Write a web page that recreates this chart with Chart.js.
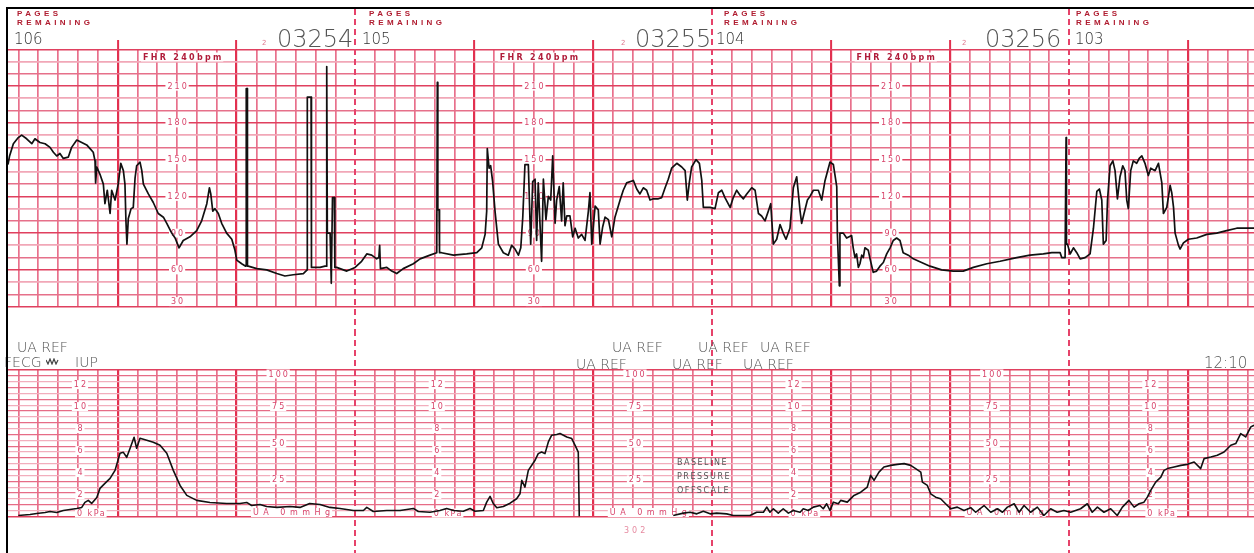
<!DOCTYPE html>
<html>
<head>
<meta charset="utf-8">
<title>CTG</title>
<script src="https://cdn.jsdelivr.net/npm/chart.js@4"></script>
<style>
  body { margin: 0; background: #fff; }
  #folha { position: relative; width: 1254px; height: 553px; overflow: hidden; background: #fff; }
  canvas { position: absolute; left: 0; }
  #topo { top: 0; }
  #base { top: 330px; }
  .moldura { position: absolute; left: 6px; top: 7px; width: 1250px; height: 548px; border-top: 2px solid #000; border-left: 2px solid #000; pointer-events: none; }
  .t { position: absolute; white-space: nowrap; line-height: 1; }
  .pag { color: #b01c30; font: bold 8px "Liberation Sans", Arial, sans-serif; letter-spacing: 3.4px; }
  .num { color: #333; font: 200 15px "DejaVu Sans", sans-serif; }
  .grande { color: #555; font: 200 24px "DejaVu Sans", sans-serif; }
  .mini { color: #e07a90; font: 7px "DejaVu Sans", sans-serif; }
  .cinza { color: #555; font: 200 14px "DejaVu Sans", sans-serif; }
  .aviso { color: #555; font: 8px "DejaVu Sans", sans-serif; letter-spacing: 1.5px; }
  .rosa { color: #e68aa0; font: 8px "DejaVu Sans", sans-serif; letter-spacing: 3px; }
</style>
</head>
<body>
<div id="folha">
  <canvas id="topo" width="1254" height="330"></canvas>
  <canvas id="base" width="1254" height="223"></canvas>

  <div class="t pag" style="left:17px;top:9px">PAGES</div>
  <div class="t pag" style="left:17px;top:18px">REMAINING</div>
  <div class="t pag" style="left:369px;top:9px">PAGES</div>
  <div class="t pag" style="left:369px;top:18px">REMAINING</div>
  <div class="t pag" style="left:724px;top:9px">PAGES</div>
  <div class="t pag" style="left:724px;top:18px">REMAINING</div>
  <div class="t pag" style="left:1076px;top:9px">PAGES</div>
  <div class="t pag" style="left:1076px;top:18px">REMAINING</div>

  <div class="t num" style="left:14px;top:30px">106</div>
  <div class="t num" style="left:362px;top:30px">105</div>
  <div class="t num" style="left:716px;top:30px">104</div>
  <div class="t num" style="left:1075px;top:30px">103</div>

  <div class="t mini" style="left:262px;top:39px">2</div>
  <div class="t grande" style="left:277px;top:25px">03254</div>
  <div class="t mini" style="left:621px;top:39px">2</div>
  <div class="t grande" style="left:635px;top:25px">03255</div>
  <div class="t mini" style="left:962px;top:39px">2</div>
  <div class="t grande" style="left:985px;top:25px">03256</div>

  <div class="t cinza" style="left:17px;top:339px">UA REF</div>
  <div class="t cinza" style="left:4px;top:354px">FECG</div>
  <svg class="t" style="left:46px;top:358px" width="14" height="7"><polyline points="0,2 2,6 4,1 6,6 8,1 10,6 12,2" fill="none" stroke="#444" stroke-width="1.2"/></svg>
  <div class="t cinza" style="left:75px;top:354px">IUP</div>

  <div class="t cinza" style="left:612px;top:339px">UA REF</div>
  <div class="t cinza" style="left:698px;top:339px">UA REF</div>
  <div class="t cinza" style="left:760px;top:339px">UA REF</div>
  <div class="t cinza" style="left:576px;top:356px">UA REF</div>
  <div class="t cinza" style="left:672px;top:356px">UA REF</div>
  <div class="t cinza" style="left:743px;top:356px">UA REF</div>
  <div class="t cinza" style="left:1204px;top:354px;font-size:15px">12:10</div>

  <div class="t aviso" style="left:677px;top:458px">BASELINE</div>
  <div class="t aviso" style="left:677px;top:472px">PRESSURE</div>
  <div class="t aviso" style="left:677px;top:486px">OFFSCALE</div>
  <div class="t rosa" style="left:624px;top:526px">302</div>

  <div class="moldura"></div>
</div>

<script>
// Batimentos fetais (tempo em segundos, bpm), uma lista por pagina
var fhrPag1 = [[-5.3,146],[-4.5,153],[-2.6,163],[-0.1,168],[1.6,170],[4.1,167],[6.7,163],[8.3,167],[10.8,164],[13.4,163],[15.9,160],[17.6,156],[19.3,153],[20.9,155],[22.6,151],[25.1,152],[26.8,160],[29.4,166],[31.9,164],[34.4,162],[36.1,159],[37.7,156],[38.6,149],[38.9,131],[39.5,144],[41.1,138],[42.8,130],[43.6,114],[44.8,125],[46.2,106],[47,125],[48.7,117],[50.3,130],[51.6,147],[52.9,141],[53.7,130],[54.2,100],[54.7,81],[55.4,102],[56.8,110],[57.9,111],[58.8,135],[59.6,145],[61.3,148],[62.2,141],[63,130],[65.5,122],[68,115],[70.5,106],[73.1,103],[74.8,98],[77.3,90],[79,86],[81,78],[83.1,84],[86.5,87],[89.9,92],[92.4,100],[95,114],[96.3,127],[97,122],[98,108],[99.1,110],[100.8,106],[102.5,98],[105,90],[107.6,85],[109.2,76],[110.1,68],[112.6,65],[114.6,63],[114.8,64],[114.9,208],[115.4,208],[115.5,63],[115.9,63],[120.2,61],[125.2,60],[130.3,57],[134.4,55],[138.6,56],[143.7,57],[145.6,60],[145.7,201],[147.6,201],[147.7,62],[147.9,62],[152.1,62],[154.6,63],[155.3,63],[155.5,226],[155.8,90],[157.2,90],[157.8,49],[158.4,119],[159.3,119],[159.6,62],[160.5,62],[165.6,59],[169.8,62]];
var fhrPag2 = [[173.1,67],[175.7,73],[178.2,72],[180.7,69],[181.8,70],[182.2,80],[182.6,61],[185.8,62],[188.3,59],[190.8,57],[194.1,61],[199.2,65],[202.6,69],[207.6,72],[211,74],[211.3,213],[211.5,213],[211.6,109],[212.2,109],[212.4,74],[213.4,74],[219.4,72],[226.1,73],[231.2,74],[233.7,78],[235.4,89],[236.2,108],[236.5,159],[237.4,143],[238.2,145],[239.2,132],[240.4,108],[242.1,81],[244.6,74],[247.1,72],[248.8,80],[250.5,77],[252.2,72],[253.4,78],[254.4,103],[255.5,146],[257.2,146],[258.4,81],[259.4,132],[260.6,134],[261.4,84],[262.2,131],[263.9,67],[264.8,134],[266.1,101],[267.3,120],[268.5,117],[269.5,153],[270.7,98],[271.5,117],[272.8,128],[274,100],[274.8,131],[275.7,96],[276.6,104],[278.2,104],[279.6,87],[280.8,94],[282.4,86],[284.1,89],[285.8,84],[287.5,108],[288.3,123],[289.2,81],[290.9,112],[292.5,109],[293.4,81],[294.7,95],[295.9,103],[297.6,101],[299.3,87],[300.9,103],[303.5,117],[305.1,125],[306.8,131],[310.2,133],[311.9,126],[313.5,122],[315.2,127],[316.9,125],[318.6,117],[320.3,118],[322.8,118],[324.5,119],[326.2,127],[327.8,134],[329.5,143],[332.1,147],[334.6,144],[336.3,141],[337.4,117],[338.4,131],[339.6,144],[341.8,150],[343.5,147],[344.7,133],[345.5,111],[348.9,111]];
var fhrPag3 = [[351.4,110],[353.1,123],[354.8,125],[356.4,119],[359,111],[360.6,119],[362.3,125],[364,121],[365.7,118],[367.4,122],[369.9,127],[371.6,125],[373.3,106],[374.9,104],[376.6,100],[378.3,108],[379.5,114],[380.8,81],[382.5,85],[384.2,97],[385.8,90],[387.2,85],[389.2,94],[390.9,127],[392.6,136],[394.3,108],[395.1,98],[396.3,106],[398,117],[399.3,120],[401,125],[403.5,125],[405.2,117],[406.9,133],[409.4,148],[411.1,146],[412.8,128],[413.1,90],[414.1,47],[414.4,90],[416.1,90],[417.8,86],[420.3,88],[421.1,78],[422,70],[422.8,73],[423.7,62],[424.5,65],[425.4,72],[426.2,70],[427,78],[428.7,76],[429.6,69],[431.2,58],[432.9,59],[434.6,63],[436.3,66],[438,73],[439.7,78],[441.3,84],[443,86],[444.7,84],[446.3,74],[448.9,72],[451.4,69],[455.6,66],[459.8,63],[465.7,60],[471.6,59],[476.6,59],[481.7,62],[488.5,65],[495.2,67],[503.6,70],[510.3,72],[517,73],[521.3,74],[525.5,74]];
var fhrPag4 = [[526.3,70],[528,70],[528.4,70],[528.5,168],[528.7,81],[529.2,81],[530.6,73],[532.2,78],[533.9,74],[535.6,69],[538.1,70],[540.6,73],[542.3,94],[544,124],[545.3,126],[546.5,117],[547.3,81],[548.7,84],[549.4,117],[550.7,145],[552.1,149],[553.2,141],[554.4,118],[555.7,136],[557.1,145],[558.2,141],[559.1,117],[559.9,110],[561.1,141],[562.4,149],[564.1,147],[565.4,151],[566.7,153],[568.3,147],[570,137],[571.2,143],[573.4,141],[575.1,147],[576.8,131],[577.6,106],[579.3,111],[581,129],[581.8,123],[582.7,111],[583.5,90],[585.2,80],[586,77],[587.7,82],[590.2,85],[594.4,86],[599.5,89],[604.5,90],[609.5,92],[614.6,94],[619.6,94],[623.3,94]];

// Pressao uterina (tempo em segundos, mmHg)
var uaPag1 = [[-0.1,0.7],[5.8,1.4],[9.2,2.1],[13.4,2.7],[15.9,3.4],[19.3,2.7],[22.6,4.1],[26,4.8],[29.4,5.5],[31.9,6.2],[33.5,9.6],[35.2,11],[36.9,8.9],[39.5,13],[41.1,19.2],[43.6,22.6],[46.2,26],[48.7,31.5],[51.2,43.2],[52.9,43.8],[54.6,40.4],[56.3,46.6],[58.3,54.1],[59.6,46.6],[61.3,53.4],[64.7,52.1],[68,50.7],[71.4,48.6],[74.8,43.2],[78.1,31.5],[81.5,21.2],[84.9,14.4],[89.9,11],[96.6,9.6],[105,8.9],[111.7,8.9],[115.1,9.6],[117.6,7.5],[121.8,8.2],[125.2,6.8],[130.3,6.2],[137,6.8],[142,6.2],[146.9,8.9],[152.1,8.2],[157.1,6.2],[162.2,5.5],[168.9,4.1]];
var uaPag2 = [[174,4.1],[175.7,6.2],[179,3.4],[185.8,4.1],[192.5,4.1],[199.2,5.5],[201.7,3.4],[207.6,2.9],[212.6,4.1],[216,5.5],[219.4,4.1],[224.4,3.6],[227.8,5.5],[230.3,3.6],[234.5,4.1],[236.2,9.8],[237.9,13.7],[239.5,8.9],[241.3,6],[244.6,6.8],[248,9.1],[251.3,12.1],[253,15.5],[253.9,24.7],[255.5,20.1],[257.2,31.5],[260.6,38.4],[262.2,42.9],[263.9,44],[265.6,42.9],[267.3,50.9],[269,55.5],[271.5,56],[273.2,56.6],[276.6,54.3],[279.1,53.2],[280.8,48.6],[282.4,44],[282.9,0],[300,null]];
var uaPag3 = [[330.3,0.7],[335.4,2.3],[338.8,2.9],[342.2,1.8],[345.5,3.6],[348.9,1.8],[352.2,2.3],[357.3,1.8],[360.6,0.7],[369,0.7],[372.4,2.9],[375.8,2.9],[377.5,6.4],[379.1,2.9],[380.8,5.3],[383.3,2.3],[385.8,5.3],[388.4,2.3],[390.9,4.1],[394.3,2.9],[395.9,5.3],[398.4,4.1],[401,6.4],[404.3,7.5],[406,5.3],[407.7,8.7],[409.4,4.1],[411.1,9.8],[413.6,8.7],[414.8,11],[418.1,9.8],[421.5,14.4],[424.9,16.6],[428.2,20.1],[429.9,28.1],[431.6,24.7],[434.1,30.3],[436.6,33.8],[440,34.9],[443.4,35.6],[446.8,36.1],[450.1,34.9],[452.6,32.7],[455.2,30.3],[456,23.5],[458.5,21.2],[460.2,15.5],[462.7,13.2],[465.2,12.1],[467.7,8.7],[470.3,5.3],[473.6,6.4],[477,4.1],[480.4,6],[482.9,2.9],[487.1,7.5],[490.5,2.9],[493.9,5.3],[496.4,2.9],[498.9,6.4],[502.3,8.7],[504.8,2.9],[507.3,7.5],[510.6,2.9],[514,6.4],[517.3,0.7],[520.7,5.3],[524,2.9],[527.4,4.1]];
var uaPag4 = [[530.8,2.9],[535.8,5.3],[539.2,8.7],[541.7,2.9],[544.3,6.4],[547.6,2.9],[551,5.3],[554.3,0.7],[556.9,6.4],[560.2,11],[562.8,6.4],[565.3,8.7],[567.8,9.8],[569.5,13.2],[571.2,17.8],[573.7,23.5],[576.3,26.9],[577.9,31.5],[579.6,32.7],[583,33.8],[586.4,34.9],[589.7,35.6],[593.1,37.2],[596.4,32.7],[598.1,39.5],[601.5,40.6],[604.8,41.8],[608.2,44],[611.6,48.6],[614.1,49.8],[616.6,56.6],[619.1,54.3],[621.7,61.2],[623.3,62.3]];

// Rotulos das escalas
var fhrRotulos = [30, 60, 90, 120, 150, 180, 210];
var kpaRotulos = [2, 4, 6, 8, 10, 12];
var mmhgRotulos = [25, 50, 75, 100];
var colunasFhr = [80, 260, 440];
var colunasTitulo = [62.8, 242.8, 422.8];
var colunasKpa = [31, 211, 391, 571];
var colunasZeroKpa = [29.5, 209.5, 389.5, 569.5];
var colunasMmhg = [131, 311, 491];
var colunasZeroMmhg = [118.3, 298.3, 478.3];
var minutos = [50, 110, 230, 290, 410, 470, 590];
var paginas = [170, 350, 530];

var tMin = -5.3, tMax = 623.3;

function pontos(listas) {
  var out = [];
  listas.forEach(function(l) {
    l.forEach(function(p) { out.push({ x: p[0], y: p[1] }); });
  });
  return out;
}

// Linhas verticais a cada 10 s
function ticksTempo(scale) {
  var t = [];
  for (var v = 0; v <= 620; v += 10) t.push({ value: v });
  scale.ticks = t;
}
function corVertical(c) {
  var v = c.tick.value;
  if (paginas.indexOf(v) >= 0) return 'rgba(0,0,0,0)';
  if (minutos.indexOf(v) >= 0) return '#e2304f';
  return '#e8708c';
}
function larguraVertical(c) {
  return minutos.indexOf(c.tick.value) >= 0 ? 2.2 : 1.7;
}
function corTick(c) {
  return minutos.indexOf(c.tick.value) >= 0 ? '#e2304f' : 'rgba(0,0,0,0)';
}

// Linha tracejada de mudanca de pagina
function fazerTracejado(y0) {
  return {
    id: 'tracejado',
    beforeDatasetsDraw: function(chart) {
      var ctx = chart.ctx, xs = chart.scales.x;
      ctx.save();
      ctx.strokeStyle = '#e6426a';
      ctx.lineWidth = 2;
      ctx.setLineDash([6, 4]);
      paginas.forEach(function(t) {
        var x = Math.round(xs.getPixelForValue(t));
        ctx.beginPath();
        ctx.moveTo(x, y0);
        ctx.lineTo(x, chart.height);
        ctx.stroke();
      });
      ctx.restore();
    }
  };
}

// Rotulos desenhados dentro da grade
function fazerRotulos(itens) {
  return {
    id: 'rotulos',
    beforeDatasetsDraw: function(chart) {
      var ctx = chart.ctx, xs = chart.scales.x, ys = chart.scales.y;
      itens.forEach(function(it) {
        ctx.save();
        ctx.font = it.fonte;
        ctx.letterSpacing = it.ls + 'px';
        var w = ctx.measureText(it.txt).width - it.ls;
        var x = xs.getPixelForValue(it.t);
        var y = ys.getPixelForValue(it.v) + (it.dy || 0);
        var x0 = it.centro ? x - w / 2 : x;
        ctx.fillStyle = '#fff';
        ctx.fillRect(x0 - 2, y - 4.5, w + 4, 9);
        ctx.fillStyle = it.cor;
        ctx.textBaseline = 'middle';
        ctx.fillText(it.txt, x0, y + 0.5);
        ctx.restore();
      });
    }
  };
}

var fonteRotulo = '8px "DejaVu Sans", sans-serif';
var fonteTitulo = 'bold 8px "DejaVu Sans", sans-serif';

var itensTopo = [];
colunasFhr.forEach(function(t) {
  fhrRotulos.forEach(function(v) {
    itensTopo.push({ t: t, v: v, dy: v === 30 ? -5 : 0, txt: String(v), centro: true, fonte: fonteRotulo, ls: 2, cor: '#d8436a' });
  });
});
colunasTitulo.forEach(function(t) {
  itensTopo.push({ t: t, v: 240, dy: 7.6, txt: 'FHR 240bpm', centro: false, fonte: fonteTitulo, ls: 2.3, cor: '#b01c3a' });
});

var itensBase = [];
colunasKpa.forEach(function(t) {
  kpaRotulos.forEach(function(v) {
    itensBase.push({ t: t, v: v * 7.5006, dy: 0, txt: String(v), centro: true, fonte: fonteRotulo, ls: 2, cor: '#d8436a' });
  });
});
colunasMmhg.forEach(function(t) {
  mmhgRotulos.forEach(function(v) {
    itensBase.push({ t: t, v: v, dy: v === 100 ? 4 : 0, txt: String(v), centro: true, fonte: fonteRotulo, ls: 2, cor: '#d8436a' });
  });
});
colunasZeroKpa.forEach(function(t) {
  itensBase.push({ t: t, v: 0, dy: -3.5, txt: '0 kPa', centro: false, fonte: fonteRotulo, ls: 1.5, cor: '#d8436a' });
});
colunasZeroMmhg.forEach(function(t) {
  itensBase.push({ t: t, v: 0, dy: -4, txt: 'UA 0mmHg', centro: false, fonte: fonteRotulo, ls: 4.5, cor: '#d8436a' });
});

// Grafico de cima: FHR
new Chart(document.getElementById('topo').getContext('2d'), {
  type: 'line',
  data: {
    datasets: [{
      data: pontos([fhrPag1, fhrPag2, fhrPag3, fhrPag4]),
      borderColor: '#111',
      borderWidth: 1.7,
      borderJoinStyle: 'round',
      pointRadius: 0,
      tension: 0,
      fill: false
    }]
  },
  options: {
    responsive: false,
    animation: false,
    devicePixelRatio: 1,
    events: [],
    layout: { padding: { left: 8, right: 0, top: 40, bottom: 23.4 } },
    plugins: { legend: { display: false }, tooltip: { enabled: false } },
    scales: {
      x: {
        type: 'linear', position: 'top', min: tMin, max: tMax,
        afterBuildTicks: ticksTempo,
        afterFit: function(s) { s.height = 9.4; },
        ticks: { display: false },
        border: { display: false },
        grid: { color: corVertical, lineWidth: larguraVertical, drawTicks: true, tickLength: 9.4, tickColor: corTick, tickWidth: 2 }
      },
      y: {
        min: 30, max: 240,
        afterBuildTicks: function(s) {
          var t = [];
          for (var v = 30; v <= 240; v += 10) t.push({ value: v });
          s.ticks = t;
        },
        afterFit: function(s) { s.width = 0; },
        ticks: { display: false },
        border: { display: false },
        grid: {
          drawTicks: false,
          color: function(c) {
            var r = c.tick.value % 30;
            if (r === 0) return '#e0405f';
            if (r === 20) return '#f1a7b7';
            return '#e6708a';
          },
          lineWidth: function(c) {
            var r = c.tick.value % 30;
            if (r === 0) return 1.5;
            if (r === 20) return 1.8;
            return 1.4;
          }
        }
      }
    }
  },
  plugins: [fazerTracejado(9), fazerRotulos(itensTopo)]
});

// Grafico de baixo: pressao uterina
new Chart(document.getElementById('base').getContext('2d'), {
  type: 'line',
  data: {
    datasets: [{
      data: pontos([uaPag1, uaPag2, uaPag3, uaPag4]),
      borderColor: '#111',
      borderWidth: 1.6,
      borderJoinStyle: 'round',
      pointRadius: 0,
      tension: 0,
      fill: false,
      spanGaps: false
    }]
  },
  options: {
    responsive: false,
    animation: false,
    devicePixelRatio: 1,
    events: [],
    layout: { padding: { left: 8, right: 0, top: 40, bottom: 36.5 } },
    plugins: { legend: { display: false }, tooltip: { enabled: false } },
    scales: {
      x: {
        type: 'linear', position: 'bottom', min: tMin, max: tMax,
        afterBuildTicks: ticksTempo,
        afterFit: function(s) { s.height = 0; },
        ticks: { display: false },
        border: { display: false },
        grid: { color: corVertical, lineWidth: larguraVertical, drawTicks: false }
      },
      y: {
        min: 0, max: 100,
        afterBuildTicks: function(s) {
          var t = [];
          for (var v = 0; v <= 100; v += 4) t.push({ value: v });
          s.ticks = t;
        },
        afterFit: function(s) { s.width = 0; },
        ticks: { display: false },
        border: { display: false },
        grid: {
          drawTicks: false,
          color: function(c) {
            var v = c.tick.value;
            if (v === 0 || v === 100) return '#e0405f';
            return (v / 4) % 2 === 0 ? '#e66c86' : '#f2aebd';
          },
          lineWidth: function(c) {
            var v = c.tick.value;
            return (v === 0 || v === 100) ? 1.6 : 1.3;
          }
        }
      }
    }
  },
  plugins: [fazerTracejado(0), fazerRotulos(itensBase)]
});
</script>
</body>
</html>
